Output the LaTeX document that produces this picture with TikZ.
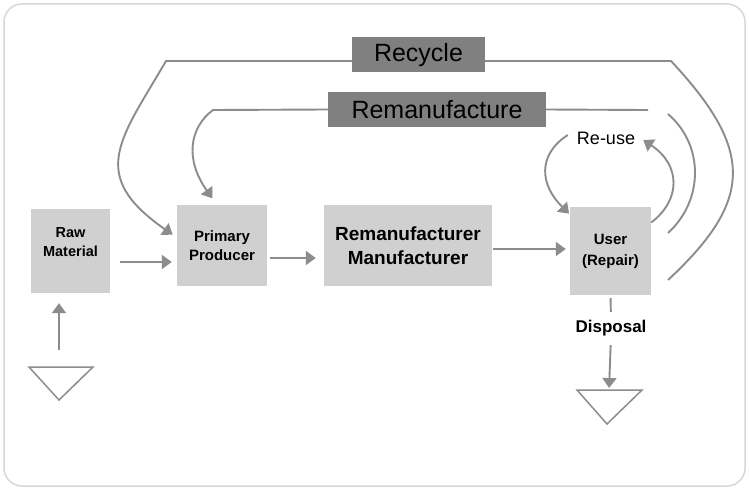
\documentclass[tikz,border=0pt]{standalone}
\usepackage{fontspec}
\setmainfont{Liberation Sans}
\usepackage{xcolor}
\usetikzlibrary{arrows.meta,calc}
\definecolor{flowgray}{RGB}{140,140,140}
\definecolor{boxgray}{RGB}{208,208,208}
\definecolor{loopgray}{RGB}{128,128,128}
\definecolor{framegray}{RGB}{215,215,215}

\begin{document}
\begin{tikzpicture}[x=1pt, y=-1pt,
    box/.style={fill=boxgray, inner sep=0pt, align=center, font=\bfseries\fontsize{14.5}{19}\selectfont},
    loopbox/.style={fill=loopgray, inner sep=0pt, minimum height=35pt, font=\fontsize{25}{28}\selectfont},
    ln/.style={flowgray, line width=1.9pt},
    arr/.style={ln, -{Triangle[length=10pt, width=14pt]}},
    sinkln/.style={flowgray, line width=1.5pt, line join=miter}
]
\useasboundingbox (0,0) rectangle (749,489);
\draw[framegray, line width=1.5pt, rounded corners=18pt] (4,4) rectangle (745,486);

% stages
\node[box, minimum width=79pt, minimum height=84pt, text depth=18pt] (raw) at (70.5,251) {Raw\\Material};
\node[box, minimum width=90pt, minimum height=81pt, font=\bfseries\fontsize{15}{19}\selectfont] (pp) at (222,245.5) {Primary\\Producer};
\node[box, minimum width=168pt, minimum height=81pt, font=\bfseries\fontsize{19}{24}\selectfont] (rm) at (408,245.5) {Remanufacturer\\Manufacturer};
\node[box, minimum width=81pt, minimum height=88pt, font=\bfseries\fontsize{15}{21}\selectfont] (user) at (610.5,251) {User\\(Repair)};

% loops
\node[loopbox, minimum width=133pt] (recycle) at (418.5,55) {Recycle};
\node[loopbox, minimum width=218pt] (reman) at (437,109.5) {Remanufacture};
\node[inner sep=0pt, font=\fontsize{18}{20}\selectfont] (reuse) at (606,138) {Re-use};
\node[inner sep=0pt, text height=12pt, text depth=3pt, font=\bfseries\fontsize{17}{18}\selectfont] (disp) at (611,328) {Disposal};

\coordinate (rcL) at (166,61);
\coordinate (rcR) at (671,61);
\coordinate (rcEnd) at (668,280);
\coordinate (rmL) at (213,110);
\coordinate (rmR) at (648,110);
\coordinate (rmA) at (668,114);
\coordinate (rmB) at (668,233);
\coordinate (src) at (59,367);
\coordinate (sink) at (609,390);

% source and sink
\draw[sinkln] (29,367) -- (93,367) -- (59,400) -- cycle;
\draw[sinkln] (577,390) -- (642,390) -- (607,424) -- cycle;

% main flow
\draw[arr] ([xshift=10pt, yshift=-11pt]raw.east) -- ([xshift=-5pt, yshift=-16.5pt]pp.west);
\draw[arr] ([xshift=3pt, yshift=-12.5pt]pp.east) -- ([xshift=-8pt, yshift=-12.5pt]rm.west);
\draw[arr] ([xshift=1pt, yshift=-3.5pt]rm.east) -- ([xshift=-4pt, yshift=2pt]user.west);
\draw[arr, shorten <=17pt] (src) -- ([xshift=-11.5pt, yshift=-10pt]raw.south);
\draw[ln, shorten <=3pt, shorten >=8.5pt] (user.south) -- (disp.north);
\draw[arr, shorten <=9.5pt, shorten >=2pt] (disp.south) -- (sink);

% recycle loop
\draw[ln] ([yshift=-6pt]recycle.east) -- (rcR) .. controls (754,150) and (754,200) .. (rcEnd);
\draw[arr, shorten >=5pt] ([yshift=-6pt]recycle.west) -- (rcL) .. controls (120,140) and (87,175) .. (pp.170);

% remanufacture loop
\draw[ln] (reman.east) -- (rmR);
\draw[ln] (rmA) .. controls (704,145) and (704,200) .. (rmB);
\draw[arr, shorten >=8pt] (reman.west) -- (rmL) .. controls (189,128) and (185,160) .. (pp.97);

% re-use loop
\draw[arr, shorten >=1pt] ([xshift=-9pt, yshift=3pt]reuse.west) .. controls (537,155) and (540,185) .. (user.138);
\draw[arr] (user.35) .. controls (681,200) and (681,165) .. ([xshift=8pt, yshift=-2pt]reuse.east);
\end{tikzpicture}
\end{document}
